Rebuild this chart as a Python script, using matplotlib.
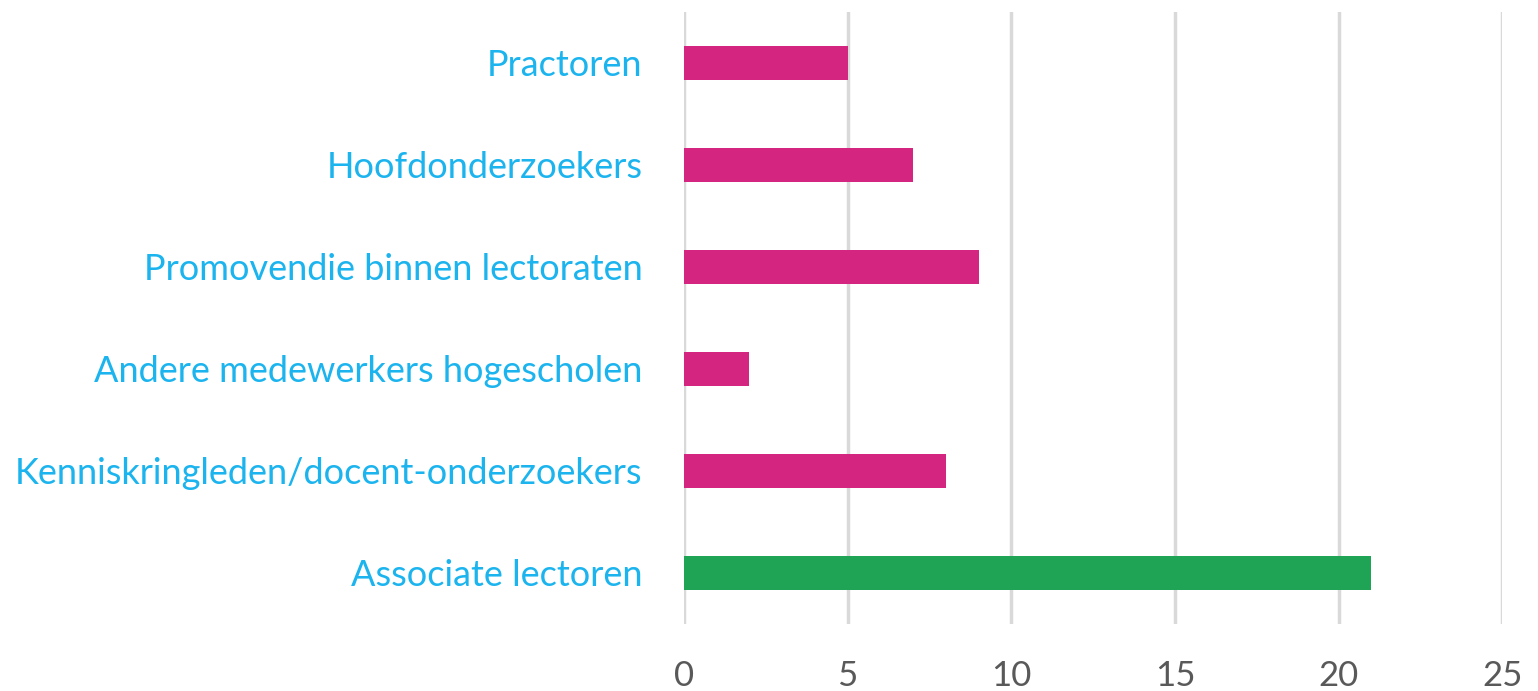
import matplotlib.pyplot as plt

# categories from top to bottom
categories = ["Practoren", "Hoofdonderzoekers", "Promovendie binnen lectoraten",
              "Andere medewerkers hogescholen", "Kenniskringleden/docent-onderzoekers",
              "Associate lectoren"]
values = [5, 7, 9, 2, 8, 21]
bar_colors = ["#D42580", "#D42580", "#D42580", "#D42580", "#D42580", "#1FA354"]
xticks = [0, 5, 10, 15, 20, 25]

plt.rcParams['font.family'] = ['Lato', 'DejaVu Sans']

fig = plt.figure(figsize=(15.38, 6.91), dpi=100)
ax = fig.add_axes([0.4447, 0.097, 0.532, 0.8857])

ypos = list(range(len(categories)))
ax.barh(ypos, values, height=0.34, color=bar_colors, zorder=3)
ax.set_ylim(len(categories) - 0.5, -0.5)
ax.set_xlim(0, 25)

ax.set_yticks(ypos)
ax.set_yticklabels(categories, color="#1BB4EE", fontsize=26)
ax.set_xticks(xticks)
ax.set_xticklabels([str(t) for t in xticks], color="#595959", fontsize=25)
ax.tick_params(axis="y", length=0, pad=30)
ax.tick_params(axis="x", length=0, pad=26)

ax.grid(axis="x", color="#D9D9D9", linewidth=2.5, zorder=0)
for s in ax.spines.values():
    s.set_visible(False)

fig.savefig("out.png", dpi=100)
